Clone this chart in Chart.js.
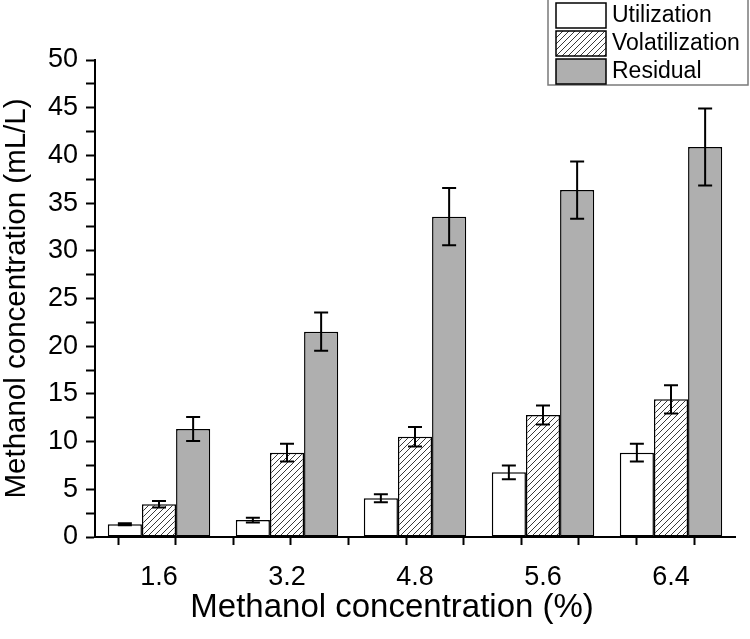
<!DOCTYPE html>
<html>
<head>
<meta charset="utf-8">
<script src="https://cdn.jsdelivr.net/npm/chart.js@4/dist/chart.umd.min.js"></script>
<style>
  html, body { margin: 0; padding: 0; background: #fff; }
  #wrap { width: 750px; height: 639px; }
</style>
</head>
<body>
<div id="wrap"><canvas id="methanolChart"></canvas></div>
<script>
const concentrations = ['1.6', '3.2', '4.8', '5.6', '6.4'];

const utilization = [1.33, 1.78, 4.06, 6.78, 8.84];
const utilizationErr = [0.1, 0.25, 0.42, 0.72, 0.93];

const volatilization = [3.43, 8.84, 10.51, 12.79, 14.43];
const volatilizationErr = [0.35, 0.93, 1.03, 1.0, 1.48];

const residual = [11.32, 21.52, 33.57, 36.37, 40.88];
const residualErr = [1.25, 2.0, 3.0, 3.0, 4.03];

// Origin-style tick marks on the x axis (not aligned with groups)
const xTickMarks = [0, 1, 2, 3, 4, 5, 6, 7, 8, 9];

const FONT = "'Liberation Sans', Arial, sans-serif";

function hatchPattern() {
  const c = document.createElement('canvas');
  c.width = 6;
  c.height = 6;
  const g = c.getContext('2d');
  g.fillStyle = '#fff';
  g.fillRect(0, 0, 6, 6);
  g.strokeStyle = '#3a3a3a';
  g.lineWidth = 1;
  g.beginPath();
  g.moveTo(0, 6); g.lineTo(6, 0);
  g.moveTo(-1, 1); g.lineTo(1, -1);
  g.moveTo(5, 7); g.lineTo(7, 5);
  g.stroke();
  return g.createPattern(c, 'repeat');
}

const errorBars = {
  id: 'errorBars',
  afterDatasetsDraw(chart) {
    const ctx = chart.ctx;
    const y = chart.scales.y;
    ctx.save();
    ctx.strokeStyle = '#000';
    ctx.lineWidth = 2;
    chart.data.datasets.forEach((ds, i) => {
      const meta = chart.getDatasetMeta(i);
      meta.data.forEach((bar, j) => {
        const v = ds.data[j], e = ds.errors[j];
        const top = y.getPixelForValue(v + e);
        const bot = y.getPixelForValue(v - e);
        const cap = 7;
        ctx.beginPath();
        ctx.moveTo(bar.x, top); ctx.lineTo(bar.x, bot);
        ctx.moveTo(bar.x - cap, top); ctx.lineTo(bar.x + cap, top);
        ctx.moveTo(bar.x - cap, bot); ctx.lineTo(bar.x + cap, bot);
        ctx.stroke();
      });
    });
    ctx.restore();
  }
};

const boxLegend = {
  id: 'boxLegend',
  afterDraw(chart) {
    const ctx = chart.ctx;
    const x0 = 548, y0 = -1, w = 200, h = 86;
    ctx.save();
    ctx.fillStyle = '#fff';
    ctx.fillRect(x0, y0, w, h);
    ctx.strokeStyle = '#7a7a7a';
    ctx.lineWidth = 1.5;
    ctx.strokeRect(x0, y0, w, h);
    ctx.font = '23px ' + FONT;
    ctx.textBaseline = 'middle';
    chart.data.datasets.forEach((ds, i) => {
      const sy = 3 + i * 28;
      ctx.fillStyle = ds.backgroundColor;
      ctx.fillRect(556, sy, 50, 25);
      ctx.strokeStyle = '#000';
      ctx.lineWidth = 1.5;
      ctx.strokeRect(556, sy, 50, 25);
      ctx.fillStyle = '#000';
      ctx.fillText(ds.label, 612, sy + 13);
    });
    ctx.restore();
  }
};

new Chart(document.getElementById('methanolChart'), {
  type: 'bar',
  data: {
    labels: concentrations,
    datasets: [
      { label: 'Utilization', data: utilization, errors: utilizationErr, backgroundColor: '#ffffff', xAxisID: 'x' },
      { label: 'Volatilization', data: volatilization, errors: volatilizationErr, backgroundColor: hatchPattern(), xAxisID: 'x' },
      { label: 'Residual', data: residual, errors: residualErr, backgroundColor: '#afafaf', xAxisID: 'x' }
    ]
  },
  options: {
    responsive: true,
    maintainAspectRatio: false,
    animation: false,
    layout: { padding: { top: 60, right: 15, left: 0, bottom: 0 } },
    datasets: {
      bar: {
        borderColor: '#000',
        borderWidth: 1.5,
        borderSkipped: false,
        categoryPercentage: 0.8,
        barPercentage: 1.0
      }
    },
    plugins: {
      legend: { display: false },
      tooltip: { enabled: false }
    },
    scales: {
      xt: {
        type: 'linear',
        position: 'bottom',
        weight: 0,
        min: -0.344,
        max: 9.656,
        afterBuildTicks: scale => { scale.ticks = xTickMarks.map(v => ({ value: v })); },
        border: { display: true, color: '#000', width: 2 },
        grid: { drawOnChartArea: false, tickLength: 8, tickColor: '#000', tickWidth: 2 },
        ticks: { display: false }
      },
      x: {
        type: 'category',
        position: 'bottom',
        weight: 1,
        afterFit: scale => { scale.height = 94; },
        border: { display: false },
        grid: { display: false },
        ticks: { color: '#000', font: { family: FONT, size: 27 }, padding: 8 },
        title: {
          display: true,
          text: 'Methanol concentration (%)     ',
          color: '#000',
          font: { family: FONT, size: 33, lineHeight: 1 },
          padding: { top: 0, bottom: 15 }
        }
      },
      y: {
        min: 0,
        max: 50,
        afterFit: scale => { scale.width = 95; },
        border: { display: true, color: '#000', width: 2 },
        grid: { drawOnChartArea: false, tickLength: 9, tickColor: '#000', tickWidth: 2 },
        ticks: {
          stepSize: 2.5,
          autoSkip: false,
          color: '#000',
          padding: 8,
          font: { family: FONT, size: 27 },
          callback: v => (v % 5 === 0 ? v : '')
        },
        title: {
          display: true,
          text: 'Methanol concentration (mL/L)',
          color: '#000',
          font: { family: FONT, size: 29.5, lineHeight: 1 },
          padding: { top: 2, bottom: 0 }
        }
      }
    }
  },
  plugins: [errorBars, boxLegend]
});
</script>
</body>
</html>
